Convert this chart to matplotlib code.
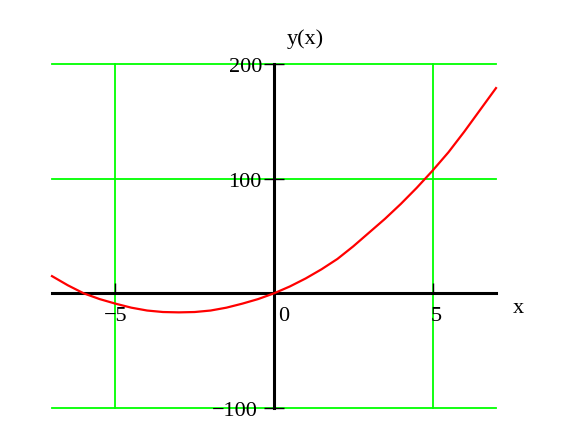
import numpy as np
import matplotlib
matplotlib.use('Agg')
import matplotlib.pyplot as plt

# curve
x = [-7, -6.5, -6, -5.5, -5, -4.5, -4, -3.5, -3, -2.5, -2, -1.5, -1, -0.5, 0,
     0.5, 1, 1.5, 2, 2.5, 3, 3.5, 4, 4.5, 5, 5.5, 6, 6.5, 7]
y = [15, 7, 0, -5, -9, -12.5, -15, -16.3, -16.6, -16.3, -15, -12.5, -9, -5, 0,
     6, 13, 21, 30, 41, 53, 65, 78, 92, 107, 123, 141, 160, 179]

grid_x = [-5, 5]
grid_y = [-100, 0, 100, 200]
xtick_vals = [-5, 5]
ytick_vals = [-100, 100, 200]
xlabels = ['\u22125', '0', '5']
ylabels = ['200', '100', '\u2212100']

plt.rcParams['font.family'] = ['Liberation Serif', 'DejaVu Serif']

fig = plt.figure(figsize=(5.68, 4.4), dpi=100)
ax = fig.add_axes([52/568, 1-408/440, 444/568, 344/440])
ax.set_xlim(-7, 7)
ax.set_ylim(-100, 200)

# green grid
for gx in grid_x:
    ax.axvline(gx, color='#00ff00', lw=1.3, clip_on=False, zorder=1)
for gy in grid_y:
    ax.axhline(gy, color='#00ff00', lw=1.3, clip_on=False, zorder=1)

# axes through the origin
for s in ['top', 'right']:
    ax.spines[s].set_visible(False)
ax.spines['left'].set_position(('data', 0))
ax.spines['bottom'].set_position(('data', 0))
ax.spines['left'].set_linewidth(2.2)
ax.spines['bottom'].set_linewidth(2.2)
ax.spines['left'].set_zorder(2)
ax.spines['bottom'].set_zorder(2)
ax.set_xticks(xtick_vals)
ax.set_yticks(ytick_vals)
ax.tick_params(axis='x', direction='in', length=7, width=1, labelbottom=False)
ax.tick_params(axis='y', direction='inout', length=14, width=1, labelleft=False)

ax.plot(x, y, color='red', lw=1.6, zorder=3, clip_on=False)

# tick labels, Mathcad style
fs = 16
ax.text(-0.38, 197, ylabels[0], ha='right', va='center', fontsize=fs)
ax.text(-0.38, 97, ylabels[1], ha='right', va='center', fontsize=fs)
ax.text(-0.5, -103, ylabels[2], ha='right', va='center', fontsize=fs)
ax.text(-4.98, -20, xlabels[0], ha='center', va='center', fontsize=fs)
ax.text(0.12, -20, xlabels[1], ha='left', va='center', fontsize=fs)
ax.text(4.95, -20, xlabels[2], ha='left', va='center', fontsize=fs)
ax.text(7.7, -13, 'x', ha='center', va='center', fontsize=fs, clip_on=False)
ax.text(0.98, 222, 'y(x)', ha='center', va='center', fontsize=fs, clip_on=False)

fig.savefig('out.png', dpi=100)
